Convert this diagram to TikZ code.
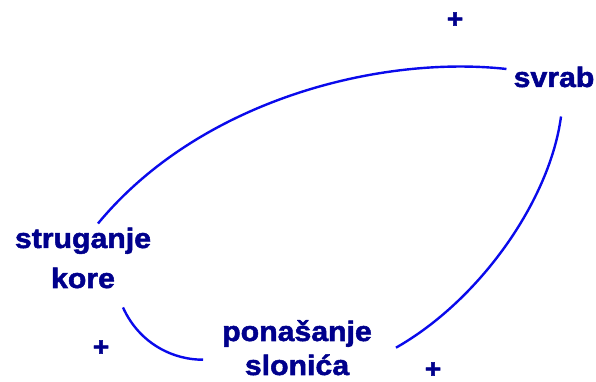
\documentclass[tikz,border=0pt]{standalone}
\usepackage{fontspec}
\newfontfamily\cldfont{Liberation Sans}[FakeStretch=1.08, FakeBold=1.8]
\usepackage{tikz}
\definecolor{loopblue}{RGB}{10,10,235}
\definecolor{labelnavy}{RGB}{0,0,140}

\begin{document}
\begin{tikzpicture}[x=1pt, y=1pt,
    var/.style={inner sep=0pt, anchor=base, align=center, text=labelnavy,
                font=\cldfont\bfseries\fontsize{28}{40}\selectfont},
    sign/.style={inner sep=0pt, text=labelnavy,
                 font=\cldfont\bfseries\fontsize{26}{30}\selectfont},
    link/.style={loopblue, line width=2.4pt}]
  \useasboundingbox (0,0) rectangle (596,382);
  % variables
  \node[var] (svrab) at (554,295) {svrab};
  \node[var] (strug) at (83,94) {struganje\\kore};
  \node[var, font=\cldfont\bfseries\fontsize{28}{34}\selectfont] (pona) at (297,7) {ponašanje\\slonića};
  % polarities
  \node[sign] (p1) at (455,362) {+};
  \node[sign] (p2) at (101,34) {+};
  \node[sign] (p3) at (433,12) {+};
  % links
  \draw[link] ([shift={(15,4)}]strug.north) .. controls (200,282) and (380,327) .. ([shift={(-7,8)}]svrab.west);
  \draw[link] ([shift={(7,-29)}]svrab.south) .. controls (550,182) and (480,82) .. ([shift={(24,0)}]pona.east);
  \draw[link] ([shift={(40,-19)}]strug.south) .. controls (140,37) and (175,22) .. ([shift={(-19,-12)}]pona.west);
\end{tikzpicture}
\end{document}
